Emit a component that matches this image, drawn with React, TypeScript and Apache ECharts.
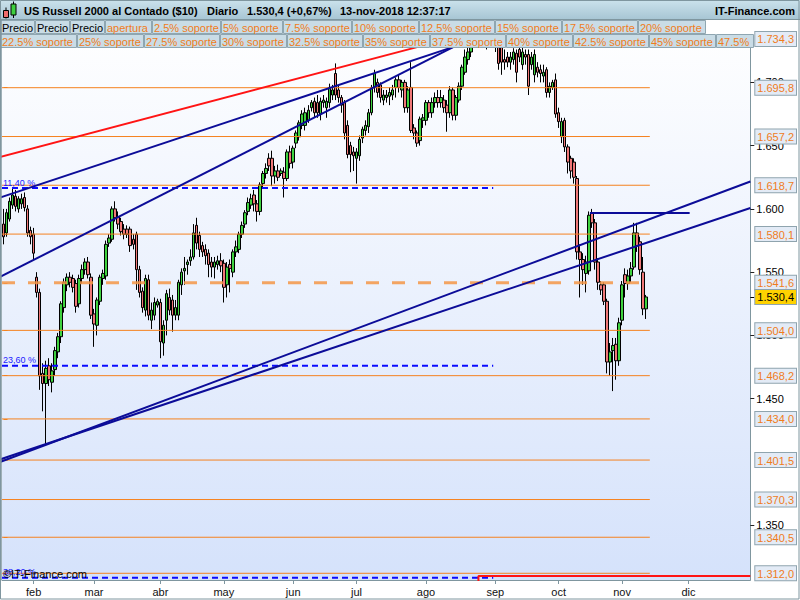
import React, { useEffect, useRef } from 'react';
import * as echarts from 'echarts';

// ---------- data ----------
// daily candles, one per weekday from 18-jan-2018 to 13-nov-2018: [open, close, low, high]
const candles: number[][] = [
  [1588, 1578, 1572, 1600], [1581, 1597, 1578, 1600], [1592, 1606, 1590, 1609], [1603, 1611, 1600, 1616],
  [1610, 1602, 1598, 1615], [1600, 1608, 1597, 1610], [1604, 1608, 1600, 1612], [1609, 1601, 1598, 1613],
  [1600, 1581, 1578, 1603], [1583, 1578, 1572, 1586],
  // feb
  [1580, 1565, 1560, 1585], [1546, 1534, 1530, 1550], [1534, 1468, 1457, 1537], [1470, 1462, 1440, 1478],
  [1462, 1474, 1414, 1480], [1476, 1465, 1460, 1482], [1463, 1472, 1455, 1478], [1473, 1488, 1468, 1491],
  [1487, 1499, 1482, 1502], [1499, 1525, 1494, 1527], [1522, 1542, 1518, 1545], [1540, 1546, 1535, 1549],
  [1546, 1542, 1538, 1550], [1545, 1538, 1534, 1548], [1541, 1523, 1518, 1544], [1525, 1545, 1522, 1548],
  [1545, 1552, 1541, 1556], [1552, 1558, 1548, 1561], [1558, 1548, 1545, 1562], [1546, 1516, 1513, 1549],
  // mar
  [1517, 1509, 1491, 1521], [1508, 1528, 1500, 1530], [1527, 1546, 1524, 1548], [1545, 1549, 1540, 1552],
  [1547, 1572, 1544, 1575], [1573, 1577, 1570, 1580], [1576, 1600, 1574, 1602], [1600, 1593, 1590, 1606],
  [1594, 1588, 1584, 1598], [1590, 1582, 1579, 1593], [1584, 1580, 1576, 1588], [1584, 1580, 1577, 1587],
  [1584, 1571, 1566, 1586], [1576, 1572, 1568, 1580], [1580, 1552, 1536, 1582], [1552, 1534, 1530, 1555],
  [1535, 1522, 1518, 1538], [1520, 1545, 1515, 1548], [1544, 1516, 1512, 1548], [1512, 1520, 1505, 1526],
  [1516, 1526, 1512, 1530], [1524, 1527, 1522, 1529],
  // abr
  [1526, 1495, 1482, 1529], [1494, 1508, 1484, 1512], [1512, 1533, 1500, 1536], [1530, 1520, 1516, 1537],
  [1528, 1516, 1503, 1532], [1516, 1522, 1512, 1528], [1516, 1542, 1512, 1544], [1540, 1550, 1532, 1553],
  [1551, 1553, 1540, 1562], [1556, 1558, 1548, 1560], [1559, 1562, 1555, 1568], [1562, 1581, 1560, 1588],
  [1587, 1573, 1568, 1593], [1579, 1568, 1562, 1582], [1571, 1566, 1562, 1574], [1568, 1563, 1556, 1572],
  [1565, 1556, 1546, 1568], [1558, 1554, 1546, 1562], [1554, 1558, 1545, 1562], [1556, 1559, 1552, 1563],
  [1559, 1555, 1550, 1565],
  // may
  [1557, 1538, 1526, 1560], [1540, 1554, 1530, 1558], [1556, 1553, 1534, 1560], [1550, 1566, 1546, 1568],
  [1566, 1570, 1562, 1575], [1568, 1580, 1565, 1582], [1580, 1587, 1577, 1590], [1588, 1597, 1585, 1599],
  [1598, 1605, 1595, 1609], [1603, 1608, 1600, 1612], [1611, 1604, 1598, 1615], [1604, 1598, 1590, 1607],
  [1598, 1619, 1595, 1621], [1620, 1628, 1616, 1630], [1628, 1632, 1624, 1636], [1640, 1634, 1630, 1644],
  [1640, 1626, 1618, 1646], [1626, 1630, 1620, 1634], [1630, 1625, 1622, 1635], [1628, 1630, 1626, 1632],
  [1629, 1624, 1609, 1633], [1624, 1645, 1622, 1647], [1645, 1636, 1632, 1650],
  // jun
  [1637, 1648, 1632, 1650], [1652, 1660, 1648, 1662], [1657, 1668, 1654, 1670], [1666, 1675, 1663, 1678],
  [1666, 1676, 1662, 1680], [1670, 1678, 1668, 1682], [1680, 1684, 1677, 1686], [1685, 1676, 1672, 1688],
  [1684, 1676, 1672, 1690], [1675, 1685, 1670, 1688], [1684, 1686, 1680, 1690], [1680, 1685, 1672, 1688],
  [1684, 1696, 1680, 1699], [1690, 1694, 1686, 1698], [1707, 1690, 1686, 1715], [1694, 1688, 1684, 1698],
  [1688, 1682, 1676, 1690], [1684, 1660, 1655, 1686], [1666, 1643, 1640, 1670], [1650, 1643, 1629, 1653],
  [1645, 1642, 1630, 1649],
  // jul
  [1640, 1645, 1620, 1648], [1642, 1655, 1638, 1658], [1656, 1663, 1652, 1665], [1662, 1666, 1658, 1670],
  [1665, 1676, 1660, 1679], [1676, 1696, 1674, 1698], [1696, 1707, 1692, 1710], [1700, 1692, 1688, 1703],
  [1698, 1688, 1684, 1700], [1686, 1690, 1682, 1694], [1688, 1690, 1684, 1694], [1689, 1692, 1682, 1696],
  [1690, 1694, 1686, 1698], [1696, 1702, 1688, 1704], [1702, 1696, 1692, 1706], [1694, 1700, 1688, 1702],
  [1700, 1680, 1676, 1702], [1680, 1694, 1676, 1697], [1696, 1662, 1660, 1716], [1664, 1660, 1655, 1667],
  [1660, 1652, 1649, 1662], [1654, 1671, 1650, 1673],
  // ago
  [1670, 1672, 1664, 1675], [1670, 1684, 1666, 1686], [1684, 1676, 1672, 1686], [1676, 1684, 1672, 1688],
  [1684, 1688, 1680, 1692], [1688, 1684, 1680, 1694], [1684, 1688, 1680, 1694], [1686, 1680, 1676, 1690],
  [1682, 1676, 1661, 1686], [1676, 1694, 1672, 1697], [1694, 1674, 1670, 1696], [1674, 1688, 1670, 1690],
  [1686, 1697, 1684, 1700], [1697, 1712, 1694, 1714], [1708, 1720, 1706, 1726], [1718, 1724, 1714, 1728],
  [1724, 1734, 1720, 1738], [1732, 1740, 1728, 1744], [1742, 1738, 1730, 1746], [1740, 1736, 1728, 1744],
  [1736, 1745, 1732, 1748], [1745, 1738, 1726, 1748], [1738, 1742, 1730, 1746],
  // sep
  [1742, 1743, 1738, 1745], [1744, 1734, 1724, 1746], [1732, 1715, 1710, 1734], [1728, 1716, 1706, 1732],
  [1718, 1716, 1710, 1726], [1720, 1716, 1712, 1724], [1716, 1720, 1710, 1724], [1718, 1724, 1714, 1727],
  [1723, 1708, 1700, 1726], [1726, 1720, 1716, 1730], [1714, 1724, 1710, 1728], [1722, 1720, 1714, 1726],
  [1722, 1697, 1690, 1726], [1714, 1720, 1710, 1724], [1706, 1722, 1700, 1726], [1712, 1708, 1704, 1716],
  [1710, 1707, 1700, 1714], [1705, 1708, 1700, 1714], [1710, 1692, 1688, 1712], [1692, 1697, 1688, 1700],
  // oct
  [1696, 1700, 1694, 1702], [1702, 1675, 1672, 1707], [1676, 1669, 1664, 1680], [1657, 1669, 1652, 1672],
  [1670, 1649, 1645, 1672], [1649, 1637, 1628, 1651], [1640, 1630, 1624, 1642], [1637, 1625, 1620, 1640],
  [1624, 1566, 1560, 1626], [1566, 1560, 1530, 1572], [1560, 1552, 1540, 1565], [1549, 1558, 1534, 1563],
  [1551, 1595, 1548, 1598], [1597, 1589, 1585, 1600], [1589, 1558, 1552, 1592], [1558, 1542, 1536, 1561],
  [1540, 1536, 1532, 1543], [1540, 1527, 1524, 1542], [1527, 1479, 1470, 1529], [1479, 1487, 1468, 1494],
  [1488, 1492, 1456, 1498], [1493, 1480, 1465, 1498], [1480, 1510, 1476, 1514],
  // nov
  [1512, 1540, 1508, 1543], [1548, 1541, 1530, 1553], [1541, 1547, 1536, 1552], [1547, 1553, 1542, 1558],
  [1554, 1581, 1552, 1589], [1581, 1571, 1566, 1589], [1574, 1552, 1548, 1578], [1550, 1521, 1516, 1562],
  [1521, 1530.4, 1513, 1532],
];

const lastPrice = 1530.4;
const levelValues = [1734.3, 1695.8, 1657.2, 1618.7, 1580.1, 1541.6, 1504.0, 1468.2, 1434.0, 1401.5, 1370.3, 1340.5, 1312.0];
const dashedLevel = 1541.6;
const roundTicks = [1350, 1450, 1500, 1550, 1600, 1650, 1700];
const monthLabels = ['feb', 'mar', 'abr', 'may', 'jun', 'jul', 'ago', 'sep', 'oct', 'nov', 'dic'];
const monthIndex = [10, 30, 52, 73, 96, 117, 140, 163, 184, 205, 227];
const fibValues = [1616.5, 1476.0, 1308.5];
const fibLabels = ['11,40 %', '23,60 %', '38,20 %'];
// analyst drawings, in [weekday index, price]
const redTrend = [[-1.16, 1641.0], [147.45, 1734.4]];
const blueTrends = [
  [[-1.16, 1609.0], [157.36, 1734.6]],
  [[-1.16, 1546.2], [154.06, 1734.0]],
  [[-1.16, 1400.0], [247.52, 1621.7]],
  [[-1.16, 1402.0], [247.52, 1600.7]],
  [[194.35, 1596.8], [227.4, 1596.8]],
];
const redBottom = [[157.4, 1300], [157.4, 1309.9], [247.5, 1309.9]];

const titleMain = 'US Russell 2000 al Contado ($10)';
const titlePeriod = 'Diario';
const titlePrice = '1.530,4 (+0,67%)';
const titleDate = '13-nov-2018 12:37:17';
const brand = 'IT-Finance.com';
const watermark = '©IT-Finance.com';
const legendRow1 = ['Precio', 'Precio', 'Precio', 'apertura', '2.5% soporte', '5% soporte', '7.5% soporte', '10% soporte', '12.5% soporte', '15% soporte', '17.5% soporte', '20% soporte'];
const legendRow2 = ['22.5% soporte', '25% soporte', '27.5% soporte', '30% soporte', '32.5% soporte', '35% soporte', '37.5% soporte', '40% soporte', '42.5% soporte', '45% soporte', '47.5% soporte'];

// ---------- layout ----------
const row1Edges = [0, 35, 70, 105, 152, 221, 283, 352, 419, 495, 562, 638, 706];
const row2Edges = [0, 77, 144, 220, 287, 363, 430, 506, 573, 649, 716, 754];
const levelEnd = 214.2;
const fibEnd = 162.3;
const yMin = 1306.7;
const yMax = 1749.3;
const FONT = 'Liberation Sans, Arial, sans-serif';
const ORANGE = '#f5821f';
const NAVY = '#0c0c98';
const GRAY = '#7f969f';

function fmtEs(v: number, dec: number): string {
  const s = v.toFixed(dec);
  const [ip, fp] = s.split('.');
  const withSep = ip.replace(/\B(?=(\d{3})+(?!\d))/g, '.');
  return fp ? `${withSep},${fp}` : withSep;
}

export default function App() {
  const ref = useRef<HTMLDivElement>(null);

  useEffect(() => {
    if (!ref.current) return;
    const chart = echarts.init(ref.current, null, { renderer: 'svg' });

    const lineSeries = (data: number[][], color: string, width: number, type: any = 'solid', z = 3) => ({
      type: 'line',
      data,
      symbol: 'none',
      silent: true,
      animation: false,
      clip: true,
      z,
      lineStyle: { color, width, type },
    });

    const series: any[] = [
      {
        type: 'candlestick',
        data: candles.map((c, i) => [i, c[0], c[1], c[2], c[3]]),
        barWidth: 3,
        silent: true,
        z: 2,
        itemStyle: {
          color: '#3fd23f',
          color0: '#f07878',
          borderColor: '#000000',
          borderColor0: '#000000',
          borderWidth: 1,
        },
      },
    ];
    levelValues.forEach((v) => {
      if (v === dashedLevel) {
        series.push(lineSeries([[-0.5, v], [levelEnd, v]], 'rgba(245,150,70,0.85)', 3, [13, 13]));
      } else {
        series.push(lineSeries([[-0.5, v], [levelEnd, v]], ORANGE, 1));
      }
    });
    fibValues.forEach((v) => series.push(lineSeries([[-0.5, v], [fibEnd, v]], '#0a0aff', 2, [6, 4], 4)));
    series.push(lineSeries(redTrend, '#ff1414', 2, 'solid', 5));
    blueTrends.forEach((t) => series.push(lineSeries(t, NAVY, 2, 'solid', 5)));
    series.push(lineSeries(redBottom, '#ff1414', 2, 'solid', 5));

    const option: any = {
      animation: false,
      backgroundColor: '#ffffff',
      textStyle: { fontFamily: FONT },
      grid: {
        left: 2,
        top: 20,
        width: 751,
        height: 560,
        show: true,
        borderWidth: 0,
        backgroundColor: new echarts.graphic.LinearGradient(0, 0, 0, 1, [
          { offset: 0, color: '#ffffff' },
          { offset: 1, color: '#d5e2fb' },
        ]),
      },
      xAxis: {
        type: 'value',
        min: -0.5,
        max: 247.5,
        splitLine: { show: false },
        axisLine: { show: true, onZero: false, lineStyle: { color: GRAY } },
        axisTick: { show: true, customValues: monthIndex, length: 4, lineStyle: { color: GRAY } },
        axisLabel: {
          customValues: monthIndex,
          formatter: (v: number) => {
            const k = monthIndex.indexOf(Math.round(v));
            return k >= 0 ? monthLabels[k] : '';
          },
          color: '#111111',
          fontSize: 11,
          fontFamily: FONT,
          margin: 6,
        },
      },
      yAxis: [
        {
          type: 'value',
          position: 'right',
          min: yMin,
          max: yMax,
          splitLine: { show: false },
          axisLine: { show: true, onZero: false, lineStyle: { color: GRAY } },
          axisTick: { show: true, customValues: roundTicks, length: 4, lineStyle: { color: '#222222' } },
          axisLabel: {
            customValues: roundTicks,
            formatter: (v: number) => fmtEs(v, 0),
            color: '#000000',
            fontSize: 11,
            fontFamily: FONT,
            margin: 6,
          },
        },
        {
          type: 'value',
          position: 'right',
          min: yMin,
          max: yMax,
          splitLine: { show: false },
          axisLine: { show: false },
          axisTick: { show: true, customValues: levelValues, length: 4, lineStyle: { color: ORANGE } },
          axisLabel: {
            customValues: levelValues,
            formatter: (v: number) => `{lv|${fmtEs(v, 1)}}`,
            margin: 5,
            rich: {
              lv: {
                color: '#f07c1c',
                fontSize: 11,
                fontFamily: FONT,
                backgroundColor: '#e3ebf6',
                borderColor: '#8fa4ae',
                borderWidth: 1,
                padding: [2, 2, 1, 2],
              },
            },
          },
        },
        {
          type: 'value',
          position: 'right',
          min: yMin,
          max: yMax,
          splitLine: { show: false },
          axisLine: { show: false },
          axisTick: { show: true, customValues: [lastPrice], length: 4, lineStyle: { color: '#000000' } },
          axisLabel: {
            customValues: [lastPrice],
            formatter: (v: number) => `{cp|${fmtEs(v, 1)}}`,
            margin: 5,
            rich: {
              cp: {
                color: '#000000',
                fontSize: 11,
                fontFamily: FONT,
                backgroundColor: '#ffd200',
                borderColor: '#8fa4ae',
                borderWidth: 1,
                padding: [2, 2, 1, 2],
              },
            },
          },
        },
      ],
      series,
    };

    chart.setOption(option);

    const px = (x: number, y: number) => chart.convertToPixel({ gridIndex: 0 } as any, [x, y]) as number[];

    const txt = (text: string, x: number, y: number, extra: any = {}, z = 101) => ({
      type: 'text',
      x,
      y,
      z,
      silent: true,
      style: {
        text,
        fill: '#000000',
        fontSize: 11,
        fontFamily: FONT,
        align: 'left',
        verticalAlign: 'middle',
        ...extra,
      },
    });

    const elements: any[] = [];
    // title bar
    elements.push({
      type: 'rect', z: 100, silent: true,
      shape: { x: 0, y: 0, width: 800, height: 20 },
      style: {
        fill: new echarts.graphic.LinearGradient(0, 0, 0, 1, [
          { offset: 0, color: '#cbe2ec' },
          { offset: 1, color: '#a6c4d3' },
        ]),
      },
    });
    elements.push({ type: 'line', z: 101, silent: true, shape: { x1: 0, y1: 19.5, x2: 800, y2: 19.5 }, style: { stroke: GRAY, lineWidth: 1 } });
    // icon
    elements.push({ type: 'line', z: 101, silent: true, shape: { x1: 6, y1: 7.5, x2: 6, y2: 18.5 }, style: { stroke: '#000', lineWidth: 1 } });
    elements.push({ type: 'rect', z: 102, silent: true, shape: { x: 3.5, y: 10.5, width: 5, height: 7 }, style: { fill: '#ef6b6b', stroke: '#000', lineWidth: 1 } });
    elements.push({ type: 'line', z: 101, silent: true, shape: { x1: 13.5, y1: 1.5, x2: 13.5, y2: 18 }, style: { stroke: '#000', lineWidth: 1 } });
    elements.push({ type: 'rect', z: 102, silent: true, shape: { x: 11, y: 4, width: 5, height: 11 }, style: { fill: '#3fcf3f', stroke: '#000', lineWidth: 1 } });
    // title texts
    const bold = { fontWeight: 'bold' };
    elements.push(txt(titleMain, 24, 10.5, bold));
    elements.push(txt(titlePeriod, 207, 10.5, bold));
    elements.push(txt(titlePrice, 247, 10.5, bold));
    elements.push(txt(titleDate, 340, 10.5, bold));
    elements.push(txt(brand, 795, 10.5, { ...bold, align: 'right' }));

    // legend rows
    elements.push({ type: 'rect', z: 99, silent: true, shape: { x: 2, y: 20, width: 751, height: 28 }, style: { fill: '#ffffff' } });
    const drawRow = (labels: string[], edges: number[], top: number) => {
      labels.forEach((label, i) => {
        const x0 = edges[i];
        const x1 = Math.min(edges[i + 1] - 1, 753);
        const clipped = edges[i + 1] > 753;
        elements.push({
          type: 'rect', z: 100, silent: true,
          shape: { x: x0 + 0.5, y: top + 0.5, width: x1 - x0, height: 13 },
          style: { fill: '#c9dce6', stroke: '#8fa6b1', lineWidth: 1 },
        });
        const extra: any = { fill: label === 'Precio' ? '#000000' : '#f07c1c' };
        if (clipped) {
          extra.width = x1 - x0 - 1;
          extra.overflow = 'truncate';
          extra.ellipsis = '';
        }
        elements.push(txt(label, x0 + 2, top + 7.5, extra));
      });
    };
    drawRow(legendRow1, row1Edges, 20);
    drawRow(legendRow2, row2Edges, 34);

    // fibonacci labels
    fibValues.forEach((v, i) => {
      const p = px(0, v);
      elements.push(txt(fibLabels[i], 3, p[1] - 1, { fill: '#1a1aff', fontSize: 9, verticalAlign: 'bottom' }, 50));
    });
    // watermark
    elements.push(txt(watermark, 3, 574, { fill: '#000000', fontSize: 11 }, 51));

    // outer frame
    elements.push({ type: 'line', z: 200, silent: true, shape: { x1: 1, y1: 20, x2: 1, y2: 580 }, style: { stroke: GRAY, lineWidth: 1.5 } });
    elements.push({ type: 'rect', z: 200, silent: true, shape: { x: 0.5, y: 0.5, width: 798.5, height: 598.5 }, style: { fill: 'none', stroke: GRAY, lineWidth: 1 } });

    chart.setOption({ graphic: { elements } });

    return () => {
      chart.dispose();
    };
  }, []);

  return (
    <div
      ref={ref}
      style={{ position: 'absolute', left: 0, top: 0, width: 800, height: 600 }}
    />
  );
}
